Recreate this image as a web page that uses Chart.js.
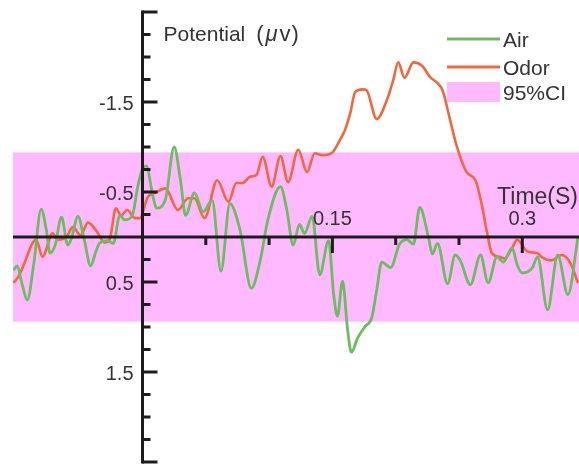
<!DOCTYPE html>
<html>
<head>
<meta charset="utf-8">
<script src="https://cdn.jsdelivr.net/npm/chart.js@4"></script>
<style>
  html, body { margin: 0; padding: 0; background: #ffffff; }
  #wrap { width: 579px; height: 466px; }
</style>
</head>
<body>
<div id="wrap"><canvas id="erp" width="579" height="466"></canvas></div>
<script>
// Averaged potential (µV) against time (s) after stimulus onset
const airTime = [-0.102,-0.099,-0.095,-0.091,-0.086,-0.080,-0.076,-0.073,-0.069,-0.064,
  -0.059,-0.056,-0.051,-0.046,-0.041,-0.037,-0.034,-0.028,-0.023,-0.018,
  -0.014,-0.008,-0.004,-0.001,0.003,0.008,0.011,0.018,0.025,0.030,
  0.034,0.041,0.048,0.055,0.062,0.069,0.077,0.086,0.093,0.099,
  0.109,0.114,0.119,0.124,0.128,0.134,0.140,0.147,0.151,0.154,
  0.158,0.162,0.165,0.170,0.176,0.181,0.185,0.189,0.196,0.203,
  0.209,0.214,0.219,0.226,0.229,0.233,0.241,0.247,0.251,0.259,
  0.267,0.273,0.280,0.285,0.292,0.296,0.300,0.308,0.312,0.320,
  0.328,0.336,0.344];
const airValue = [0.37,0.32,0.53,0.70,0.31,-0.31,-0.08,0.18,0.09,-0.22,
  0.09,0.01,-0.23,0.03,0.32,0.17,0.07,0.04,0.07,-0.24,
  -0.19,-0.24,-0.54,-0.72,-0.79,-0.47,-0.32,-0.41,-1.00,-0.63,
  -0.24,-0.49,-0.28,-0.41,0.38,-0.37,-0.08,0.57,0.26,-0.19,
  -0.56,-0.30,0.09,-0.14,-0.04,-0.23,0.42,0.04,0.64,0.88,
  0.49,1.03,1.28,1.12,0.99,0.90,0.59,0.28,0.34,0.08,
  0.03,0.08,-0.33,0.01,0.19,0.07,0.52,0.20,0.26,0.53,
  0.20,0.51,0.22,0.28,0.12,0.31,0.40,0.34,0.22,0.81,
  0.20,0.64,0.00];

const odorTime = [-0.102,-0.098,-0.093,-0.087,-0.084,-0.079,-0.071,-0.067,-0.060,-0.055,
  -0.049,-0.043,-0.036,-0.030,-0.026,-0.021,-0.017,-0.012,-0.006,-0.002,
  0.004,0.010,0.018,0.028,0.036,0.041,0.049,0.059,0.068,0.074,
  0.079,0.085,0.090,0.095,0.102,0.109,0.115,0.123,0.130,0.136,
  0.142,0.150,0.156,0.160,0.164,0.168,0.174,0.177,0.185,0.193,
  0.198,0.202,0.207,0.214,0.221,0.227,0.233,0.237,0.243,0.248,
  0.256,0.263,0.268,0.272,0.276,0.282,0.286,0.292,0.296,0.304,
  0.312,0.316,0.323,0.331,0.338,0.344];
const odorValue = [0.51,0.44,0.28,0.07,0.03,0.22,-0.04,0.03,0.00,-0.11,
  -0.02,-0.16,-0.06,0.06,0.03,-0.32,-0.24,-0.30,-0.21,-0.21,
  -0.44,-0.49,-0.54,-0.30,-0.43,-0.43,-0.21,-0.63,-0.39,-0.60,
  -0.60,-0.67,-0.69,-0.89,-0.56,-0.90,-0.61,-0.97,-0.72,-0.93,
  -0.91,-0.94,-1.08,-1.19,-1.37,-1.61,-1.64,-1.63,-1.31,-1.52,
  -1.74,-1.94,-1.77,-1.94,-1.90,-1.78,-1.71,-1.63,-1.30,-1.02,
  -0.72,-0.63,-0.36,-0.06,0.18,0.22,0.24,0.12,0.03,0.16,
  0.18,0.23,0.26,0.20,0.29,0.51];

// 95% confidence band of the baseline (µV)
const ciBounds = [-0.94, 0.94];

// Axis ticks and labels
const xTickValues = [0.05, 0.10, 0.15, 0.20, 0.25, 0.30];
const xLabelValues = [0.15, 0.30];
const xLabels = ['0.15', '0.3'];
const yLabelValues = [-1.5, -0.5, 0.5, 1.5];
const yLabels = ['-1.5', '-0.5', '0.5', '1.5'];

const GREEN = '#6cbc60';
const ORANGE = '#f0683c';
const PINK = '#ffbaff';
const INK = '#1c1c1c';
const TEXT = '#333333';
const FONT = '"Liberation Sans", Arial, Helvetica, sans-serif';

const toPoints = (ts, vs) => ts.map((t, i) => ({ x: t, y: vs[i] }));

const crossAxes = {
  id: 'crossAxes',
  beforeDatasetsDraw(chart) {
    const { ctx, chartArea: a, scales: { y } } = chart;
    const top = y.getPixelForValue(ciBounds[0]);
    const bot = y.getPixelForValue(ciBounds[1]);
    ctx.save();
    ctx.fillStyle = PINK;
    ctx.fillRect(a.left, top, a.right - a.left, bot - top);
    ctx.restore();
  },
  afterDatasetsDraw(chart) {
    const { ctx, chartArea: a, scales: { x, y } } = chart;
    const x0 = x.getPixelForValue(0);
    const y0 = y.getPixelForValue(0);
    ctx.save();
    ctx.strokeStyle = INK;
    ctx.lineWidth = 3;
    ctx.lineCap = 'butt';

    // horizontal axis through zero potential
    ctx.beginPath();
    ctx.moveTo(a.left, y0);
    ctx.lineTo(a.right, y0);
    ctx.stroke();

    // vertical axis at stimulus onset
    const yTop = y.getPixelForValue(y.min) - 1.5;
    const yBot = y.getPixelForValue(y.max) + 1.5;
    ctx.beginPath();
    ctx.moveTo(x0, yTop);
    ctx.lineTo(x0, yBot);
    ctx.stroke();

    // y ticks every 0.25 µV, longer at the labelled values and the ends
    for (let k = -10; k <= 10; k++) {
      if (k === 0) continue;
      const v = k * 0.25;
      const major = Math.abs(k) % 4 === 2;
      const len = major ? 15 : 8;
      const py = y.getPixelForValue(v);
      ctx.beginPath();
      ctx.moveTo(x0, py);
      ctx.lineTo(x0 + len, py);
      ctx.stroke();
    }

    // x ticks pointing down
    xTickValues.forEach(t => {
      const major = xLabelValues.some(l => Math.abs(l - t) < 1e-9);
      const px = x.getPixelForValue(t);
      ctx.beginPath();
      ctx.moveTo(px, y0);
      ctx.lineTo(px, y0 + (major ? 16 : 8));
      ctx.stroke();
    });

    // tick labels
    ctx.fillStyle = TEXT;
    ctx.font = '20px ' + FONT;
    ctx.textAlign = 'right';
    ctx.textBaseline = 'middle';
    yLabelValues.forEach((v, i) => {
      ctx.fillText(yLabels[i], x0 - 9, y.getPixelForValue(v) + 2);
    });
    ctx.textAlign = 'center';
    ctx.textBaseline = 'alphabetic';
    xLabelValues.forEach((t, i) => {
      ctx.fillText(xLabels[i], x.getPixelForValue(t), y0 - 12);
    });

    // axis titles
    ctx.font = '23px ' + FONT;
    ctx.textAlign = 'right';
    ctx.fillText('Time(S)', a.right - 1, y0 - 33);

    ctx.textAlign = 'left';
    ctx.font = '21px ' + FONT;
    let tx = x0 + 21;
    ctx.fillText('Potential', tx, 41);
    tx += ctx.measureText('Potential').width + 11;
    ctx.font = '22px ' + FONT;
    ctx.fillText('(', tx, 41);
    tx += ctx.measureText('(').width + 2;
    ctx.font = 'italic 22px ' + FONT;
    ctx.fillText('\u03bc', tx, 41);
    tx += ctx.measureText('\u03bc').width + 2;
    ctx.font = '22px ' + FONT;
    ctx.fillText('v', tx, 41);
    tx += ctx.measureText('v').width + 1;
    ctx.fillText(')', tx, 41);

    // legend
    const lx = 447, lw = 53;
    ctx.lineWidth = 2.8;
    ctx.strokeStyle = GREEN;
    ctx.beginPath(); ctx.moveTo(lx, 39); ctx.lineTo(lx + lw, 39); ctx.stroke();
    ctx.strokeStyle = ORANGE;
    ctx.beginPath(); ctx.moveTo(lx, 67); ctx.lineTo(lx + lw, 67); ctx.stroke();
    ctx.fillStyle = PINK;
    ctx.fillRect(lx, 82, lw, 20);
    ctx.fillStyle = TEXT;
    ctx.font = '21px ' + FONT;
    ctx.fillText('Air', 503, 47);
    ctx.fillText('Odor', 503, 75);
    ctx.fillText('95%CI', 503, 100);
    ctx.restore();
  }
};

new Chart(document.getElementById('erp'), {
  type: 'line',
  data: {
    datasets: [
      {
        label: 'Air',
        data: toPoints(airTime, airValue),
        borderColor: GREEN,
        borderWidth: 2.8,
        pointRadius: 0,
        cubicInterpolationMode: 'monotone',
        fill: false
      },
      {
        label: 'Odor',
        data: toPoints(odorTime, odorValue),
        borderColor: ORANGE,
        borderWidth: 2.6,
        pointRadius: 0,
        cubicInterpolationMode: 'monotone',
        fill: false
      }
    ]
  },
  options: {
    responsive: false,
    animation: false,
    devicePixelRatio: 1,
    events: [],
    layout: { padding: { left: 13, right: 0, top: 12, bottom: 4 } },
    scales: {
      x: { type: 'linear', min: -0.1023, max: 0.3448, display: false },
      y: { type: 'linear', min: -2.5, max: 2.5, reverse: true, display: false }
    },
    plugins: { legend: { display: false }, tooltip: { enabled: false } }
  },
  plugins: [crossAxes]
});
</script>
</body>
</html>
